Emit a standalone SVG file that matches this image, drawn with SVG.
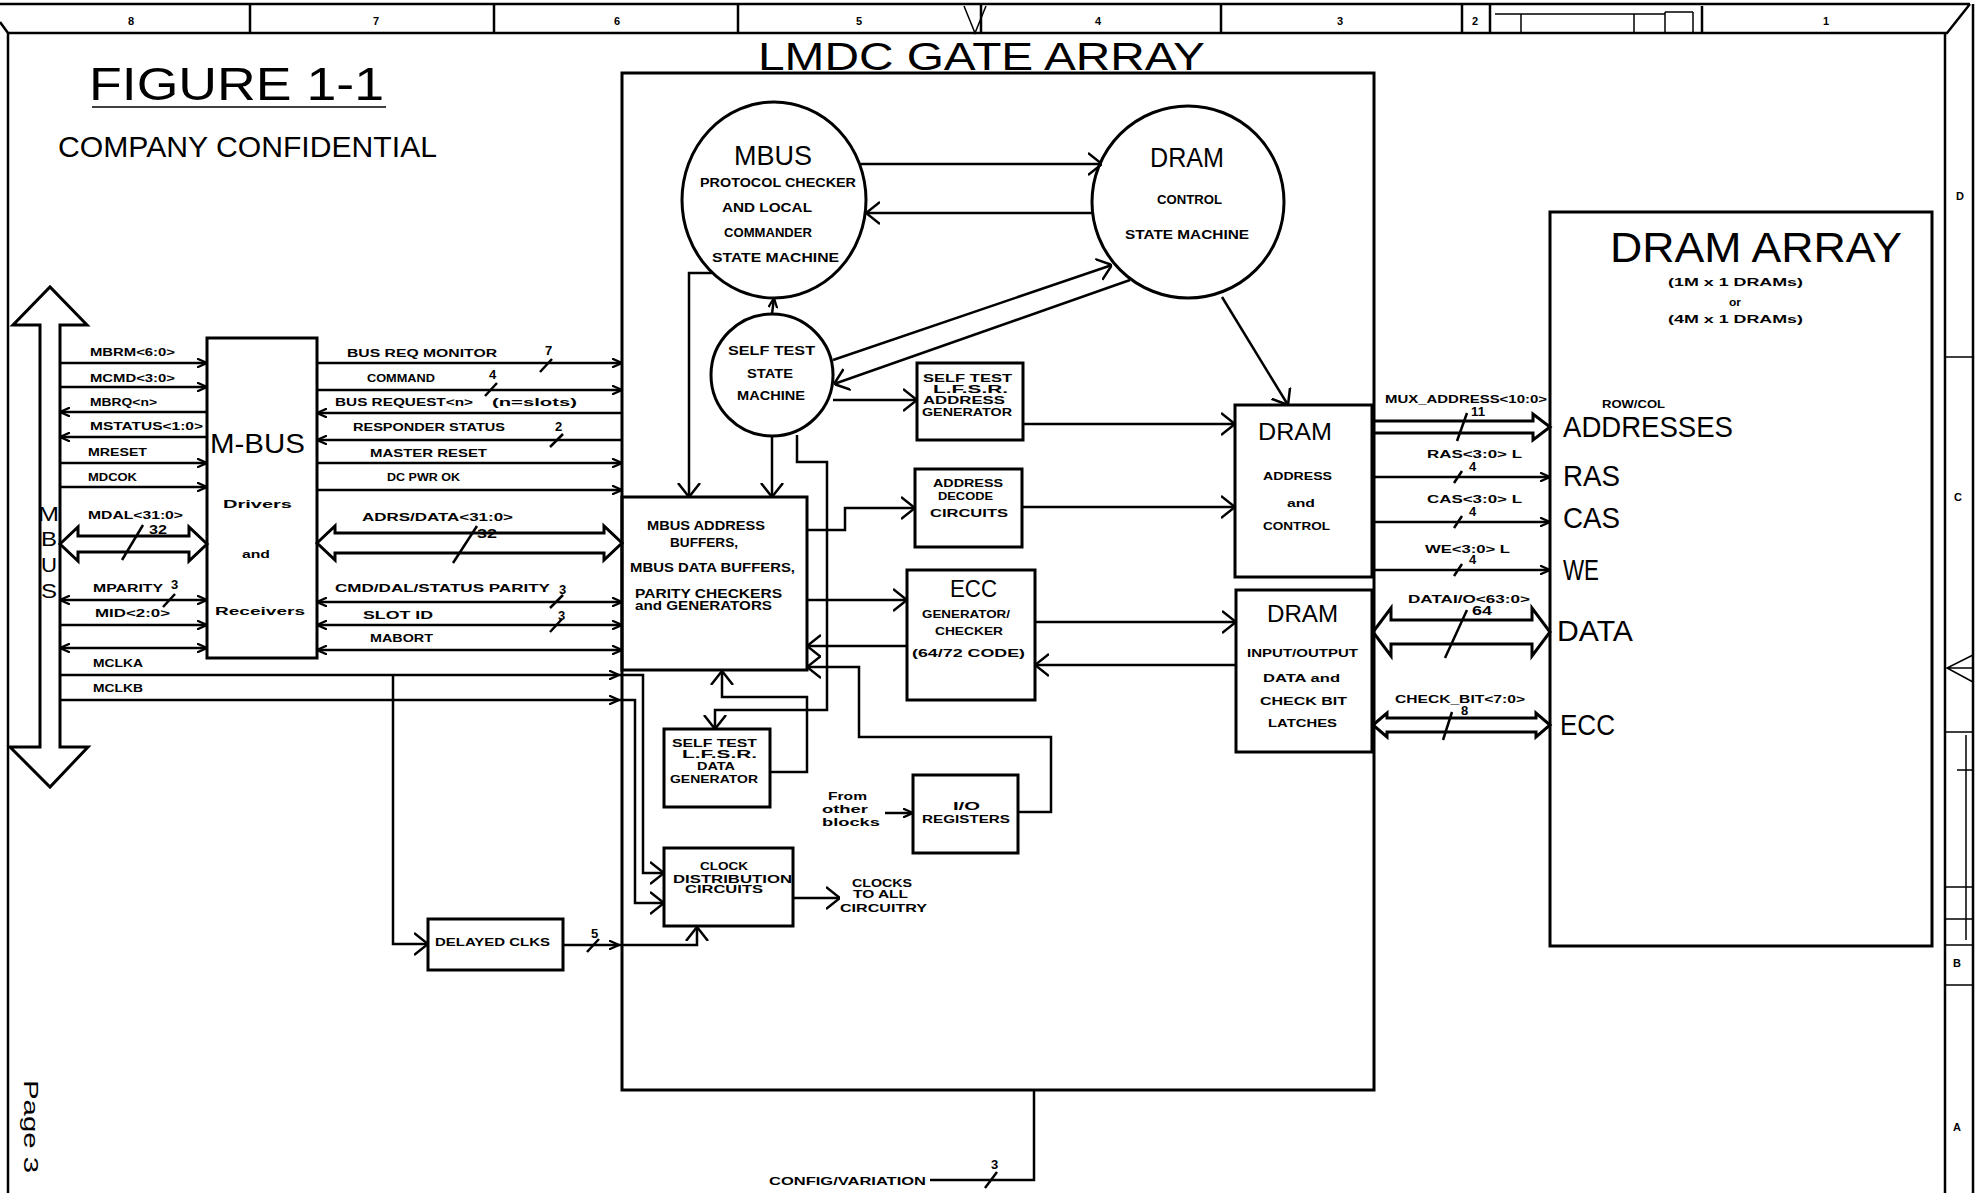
<svg xmlns="http://www.w3.org/2000/svg" width="1986" height="1193" viewBox="0 0 1986 1193">
<defs>
<style>
.ln{fill:none;stroke:#000;stroke-width:2.5}
.bx{fill:none;stroke:#000;stroke-width:3}
.fr{fill:none;stroke:#000;stroke-width:2.5}
.th{fill:none;stroke:#000;stroke-width:1.5}
.bus{fill:none;stroke:#000;stroke-width:3;stroke-linejoin:miter}
.s{font-family:"Liberation Sans",Arial,sans-serif;font-weight:bold;font-size:11px;fill:#000}
.n{font-family:"Liberation Sans",Arial,sans-serif;font-weight:bold;font-size:13px;fill:#000}
.m{font-family:"Liberation Sans",Arial,sans-serif;font-weight:bold;font-size:12px;fill:#000}
.t{font-family:"Liberation Sans",Arial,sans-serif;font-weight:normal;fill:#000}
</style>
<marker id="a" viewBox="0 0 10 10" refX="10" refY="5" markerWidth="10" markerHeight="10" markerUnits="userSpaceOnUse" orient="auto"><path d="M0,0.5 L10,5 L0,9.5" fill="none" stroke="#000" stroke-width="2.2"/></marker>
<marker id="b" viewBox="0 0 10 10" refX="10" refY="5" markerWidth="10" markerHeight="10" markerUnits="userSpaceOnUse" orient="auto-start-reverse"><path d="M0,0.5 L10,5 L0,9.5" fill="none" stroke="#000" stroke-width="2.2"/></marker>
<marker id="A" viewBox="0 0 14 24" refX="14" refY="12" markerWidth="14" markerHeight="24" markerUnits="userSpaceOnUse" orient="auto"><path d="M0,1 L14,12 L0,23" fill="none" stroke="#000" stroke-width="2.5"/></marker>
</defs>
<rect width="1986" height="1193" fill="#fff"/>

<g id="frame">
<path class="fr" d="M0,4 H1970 M0,22 L8,33 H1947 L1970,4 M8,33 V1193 M1945,33 V1193 M1973,4 V1193"/>
<path class="fr" d="M250,4 V33 M494,4 V33 M738,4 V33 M981,4 V33 M1221,4 V33 M1462,4 V33 M1490,4 V33 M1702,6 V33"/>
<path class="th" d="M964,6 L975,33 L986,6 M1495,14 H1665 M1521,14 V33 M1634,14 V33 M1665,12 V33 M1693,12 V33 M1665,12 H1693"/>
<path class="th" d="M1945,357 H1973 M1945,732 H1973 M1957,770 H1973 M1945,887 H1973 M1945,919 H1973 M1945,945 H1973 M1945,985 H1973 M1973,655 L1947,668 L1973,682 M1947,668 H1973 M1966,735 V940"/>
<g class="s">
<text x="128" y="25">8</text><text x="373" y="25">7</text><text x="614" y="25">6</text><text x="856" y="25">5</text>
<text x="1095" y="25">4</text><text x="1337" y="25">3</text><text x="1472" y="25">2</text><text x="1823" y="25">1</text>
<text x="1956" y="200">D</text><text x="1954" y="501">C</text><text x="1953" y="967">B</text><text x="1953" y="1131">A</text>
</g>
<text class="t" transform="translate(24,1080) rotate(90)" font-size="20" font-weight="bold" textLength="93" lengthAdjust="spacingAndGlyphs">Page 3</text>
</g>

<g id="title">
<text class="t" x="89" y="100" font-size="46" textLength="295" lengthAdjust="spacingAndGlyphs">FIGURE 1-1</text>
<line class="th" x1="92" y1="107" x2="386" y2="107"/>
<text class="t" x="58" y="157" font-size="30" textLength="379" lengthAdjust="spacingAndGlyphs">COMPANY CONFIDENTIAL</text>
</g>

<g id="mbus-arrow">
<path class="bus" d="M40,325 L13,325 L50,287 L87,325 L60,325 L60,747 L88,747 L50,787 L10,747 L40,747 Z"/>
<text class="t" x="38" y="521" font-size="21" textLength="21" lengthAdjust="spacingAndGlyphs">M</text>
<text class="t" x="41" y="546" font-size="21" textLength="16" lengthAdjust="spacingAndGlyphs">B</text>
<text class="t" x="41" y="572" font-size="21" textLength="16" lengthAdjust="spacingAndGlyphs">U</text>
<text class="t" x="41" y="598" font-size="21" textLength="16" lengthAdjust="spacingAndGlyphs">S</text>
</g>

<g id="mbus-box">
<rect class="bx" x="207" y="338" width="110" height="320"/>
<text class="t" x="210" y="453" font-size="28" textLength="95" lengthAdjust="spacingAndGlyphs">M-BUS</text>
<text class="s" x="223" y="508" textLength="69" lengthAdjust="spacingAndGlyphs">Drivers</text>
<text class="s" x="242" y="558" textLength="28" lengthAdjust="spacingAndGlyphs">and</text>
<text class="s" x="215" y="615" textLength="90" lengthAdjust="spacingAndGlyphs">Receivers</text>
</g>

<g id="gate-array">
<rect class="bx" x="622" y="73" width="752" height="1017"/>
<text class="t" x="758" y="70" font-size="39" textLength="447" lengthAdjust="spacingAndGlyphs">LMDC GATE ARRAY</text>
</g>

<g id="mbus-sm">
<ellipse class="bx" cx="774" cy="200" rx="92" ry="98"/>
<text class="t" x="734" y="165" font-size="28" textLength="78" lengthAdjust="spacingAndGlyphs">MBUS</text>
<text class="m" x="700" y="187" textLength="156" lengthAdjust="spacingAndGlyphs">PROTOCOL CHECKER</text>
<text class="m" x="722" y="212" textLength="90" lengthAdjust="spacingAndGlyphs">AND LOCAL</text>
<text class="m" x="724" y="237" textLength="88" lengthAdjust="spacingAndGlyphs">COMMANDER</text>
<text class="m" x="712" y="262" textLength="127" lengthAdjust="spacingAndGlyphs">STATE MACHINE</text>
</g>

<g id="dram-sm">
<circle class="bx" cx="1188" cy="202" r="96"/>
<text class="t" x="1150" y="167" font-size="27" textLength="74" lengthAdjust="spacingAndGlyphs">DRAM</text>
<text class="m" x="1157" y="204" textLength="65" lengthAdjust="spacingAndGlyphs">CONTROL</text>
<text class="m" x="1125" y="239" textLength="124" lengthAdjust="spacingAndGlyphs">STATE MACHINE</text>
</g>

<g id="selftest-sm">
<circle class="bx" cx="772" cy="375" r="61"/>
<text class="m" x="728" y="355" textLength="87" lengthAdjust="spacingAndGlyphs">SELF TEST</text>
<text class="m" x="747" y="378" textLength="46" lengthAdjust="spacingAndGlyphs">STATE</text>
<text class="m" x="737" y="400" textLength="68" lengthAdjust="spacingAndGlyphs">MACHINE</text>
</g>

<g id="lfsr-addr">
<rect class="bx" x="917" y="363" width="106" height="77"/>
<text class="s" x="923" y="382" textLength="89" lengthAdjust="spacingAndGlyphs">SELF TEST</text>
<text class="s" x="933" y="393" textLength="75" lengthAdjust="spacingAndGlyphs">L.F.S.R.</text>
<text class="s" x="923" y="404" textLength="82" lengthAdjust="spacingAndGlyphs">ADDRESS</text>
<text class="s" x="922" y="416" textLength="90" lengthAdjust="spacingAndGlyphs">GENERATOR</text>
</g>

<g id="addr-decode">
<rect class="bx" x="915" y="469" width="107" height="78"/>
<text class="s" x="933" y="487" textLength="70" lengthAdjust="spacingAndGlyphs">ADDRESS</text>
<text class="s" x="938" y="500" textLength="55" lengthAdjust="spacingAndGlyphs">DECODE</text>
<text class="s" x="930" y="517" textLength="78" lengthAdjust="spacingAndGlyphs">CIRCUITS</text>
</g>

<g id="mbus-buffers">
<rect class="bx" x="622" y="497" width="185" height="173"/>
<text class="m" x="647" y="530" textLength="118" lengthAdjust="spacingAndGlyphs">MBUS ADDRESS</text>
<text class="m" x="670" y="547" textLength="68" lengthAdjust="spacingAndGlyphs">BUFFERS,</text>
<text class="m" x="630" y="572" textLength="165" lengthAdjust="spacingAndGlyphs">MBUS DATA BUFFERS,</text>
<text class="m" x="635" y="598" textLength="147" lengthAdjust="spacingAndGlyphs">PARITY CHECKERS</text>
<text class="m" x="635" y="610" textLength="137" lengthAdjust="spacingAndGlyphs">and GENERATORS</text>
</g>

<g id="ecc">
<rect class="bx" x="907" y="570" width="128" height="130"/>
<text class="t" x="950" y="597" font-size="24" textLength="47" lengthAdjust="spacingAndGlyphs">ECC</text>
<text class="s" x="922" y="618" textLength="88" lengthAdjust="spacingAndGlyphs">GENERATOR/</text>
<text class="s" x="935" y="635" textLength="68" lengthAdjust="spacingAndGlyphs">CHECKER</text>
<text class="s" x="912" y="657" textLength="113" lengthAdjust="spacingAndGlyphs">(64/72 CODE)</text>
</g>

<g id="lfsr-data">
<rect class="bx" x="664" y="729" width="106" height="78"/>
<text class="s" x="672" y="747" textLength="85" lengthAdjust="spacingAndGlyphs">SELF TEST</text>
<text class="s" x="682" y="758" textLength="75" lengthAdjust="spacingAndGlyphs">L.F.S.R.</text>
<text class="s" x="697" y="770" textLength="38" lengthAdjust="spacingAndGlyphs">DATA</text>
<text class="s" x="670" y="783" textLength="88" lengthAdjust="spacingAndGlyphs">GENERATOR</text>
</g>

<g id="io-regs">
<rect class="bx" x="913" y="775" width="105" height="78"/>
<text class="s" x="953" y="810" textLength="27" lengthAdjust="spacingAndGlyphs">I/O</text>
<text class="s" x="922" y="823" textLength="88" lengthAdjust="spacingAndGlyphs">REGISTERS</text>
<text class="s" x="828" y="800" textLength="39" lengthAdjust="spacingAndGlyphs">From</text>
<text class="s" x="822" y="813" textLength="46" lengthAdjust="spacingAndGlyphs">other</text>
<text class="s" x="822" y="826" textLength="58" lengthAdjust="spacingAndGlyphs">blocks</text>
</g>

<g id="clock-dist">
<rect class="bx" x="664" y="848" width="129" height="78"/>
<text class="s" x="700" y="870" textLength="48" lengthAdjust="spacingAndGlyphs">CLOCK</text>
<text class="s" x="673" y="883" textLength="119" lengthAdjust="spacingAndGlyphs">DISTRIBUTION</text>
<text class="s" x="685" y="893" textLength="78" lengthAdjust="spacingAndGlyphs">CIRCUITS</text>
<text class="s" x="852" y="887" textLength="60" lengthAdjust="spacingAndGlyphs">CLOCKS</text>
<text class="s" x="853" y="898" textLength="55" lengthAdjust="spacingAndGlyphs">TO ALL</text>
<text class="s" x="840" y="912" textLength="87" lengthAdjust="spacingAndGlyphs">CIRCUITRY</text>
</g>

<g id="delayed-clks">
<rect class="bx" x="428" y="919" width="135" height="51"/>
<text class="s" x="435" y="946" textLength="115" lengthAdjust="spacingAndGlyphs">DELAYED CLKS</text>
</g>

<g id="dram-addr">
<rect class="bx" x="1235" y="405" width="137" height="172"/>
<text class="t" x="1258" y="440" font-size="24" textLength="74" lengthAdjust="spacingAndGlyphs">DRAM</text>
<text class="s" x="1263" y="480" textLength="69" lengthAdjust="spacingAndGlyphs">ADDRESS</text>
<text class="s" x="1287" y="507" textLength="28" lengthAdjust="spacingAndGlyphs">and</text>
<text class="s" x="1263" y="530" textLength="67" lengthAdjust="spacingAndGlyphs">CONTROL</text>
</g>

<g id="dram-io">
<rect class="bx" x="1236" y="590" width="136" height="162"/>
<text class="t" x="1267" y="622" font-size="24" textLength="71" lengthAdjust="spacingAndGlyphs">DRAM</text>
<text class="s" x="1247" y="657" textLength="111" lengthAdjust="spacingAndGlyphs">INPUT/OUTPUT</text>
<text class="s" x="1263" y="682" textLength="77" lengthAdjust="spacingAndGlyphs">DATA and</text>
<text class="s" x="1260" y="705" textLength="87" lengthAdjust="spacingAndGlyphs">CHECK BIT</text>
<text class="s" x="1268" y="727" textLength="69" lengthAdjust="spacingAndGlyphs">LATCHES</text>
</g>

<g id="dram-array">
<rect class="bx" x="1550" y="212" width="382" height="734"/>
<text class="t" x="1610" y="262" font-size="42" textLength="292" lengthAdjust="spacingAndGlyphs">DRAM ARRAY</text>
<text class="s" x="1668" y="286" font-size="10" textLength="135" lengthAdjust="spacingAndGlyphs">(1M x 1 DRAMs)</text>
<text class="s" x="1729" y="306" font-size="10" textLength="12" lengthAdjust="spacingAndGlyphs">or</text>
<text class="s" x="1668" y="323" font-size="10" textLength="135" lengthAdjust="spacingAndGlyphs">(4M x 1 DRAMs)</text>
<text class="s" x="1602" y="408" font-size="10" textLength="63" lengthAdjust="spacingAndGlyphs">ROW/COL</text>
<text class="t" x="1563" y="437" font-size="30" textLength="170" lengthAdjust="spacingAndGlyphs">ADDRESSES</text>
<text class="t" x="1563" y="486" font-size="29" textLength="57" lengthAdjust="spacingAndGlyphs">RAS</text>
<text class="t" x="1563" y="528" font-size="29" textLength="57" lengthAdjust="spacingAndGlyphs">CAS</text>
<text class="t" x="1563" y="580" font-size="29" textLength="36" lengthAdjust="spacingAndGlyphs">WE</text>
<text class="t" x="1557" y="641" font-size="29" textLength="76" lengthAdjust="spacingAndGlyphs">DATA</text>
<text class="t" x="1560" y="735" font-size="29" textLength="55" lengthAdjust="spacingAndGlyphs">ECC</text>
</g>

<g id="connectors">
<g class="ln">
<line x1="60" y1="363" x2="207" y2="363" marker-end="url(#a)"/>
<line x1="60" y1="387" x2="207" y2="387" marker-end="url(#a)"/>
<line x1="207" y1="412" x2="60" y2="412" marker-end="url(#a)"/>
<line x1="207" y1="437" x2="60" y2="437" marker-end="url(#a)"/>
<line x1="60" y1="463" x2="207" y2="463" marker-end="url(#a)"/>
<line x1="60" y1="487" x2="207" y2="487" marker-end="url(#a)"/>
<line x1="60" y1="600" x2="207" y2="600" marker-start="url(#b)" marker-end="url(#a)"/>
<line x1="60" y1="625" x2="207" y2="625" marker-end="url(#a)"/>
<line x1="60" y1="648" x2="207" y2="648" marker-start="url(#b)" marker-end="url(#a)"/>
<line x1="60" y1="675" x2="619" y2="675" marker-end="url(#a)"/>
<line x1="60" y1="700" x2="619" y2="700" marker-end="url(#a)"/>
<line x1="163" y1="607" x2="175" y2="594"/>
<line x1="122" y1="560" x2="143" y2="525"/>
</g>
<path class="bus" d="M60,544 L78,527 L78,536 L189,536 L189,527 L207,544 L189,561 L189,552 L78,552 L78,561 Z"/>
<g class="s">
<text x="90" y="356" textLength="85" lengthAdjust="spacingAndGlyphs">MBRM&lt;6:0&gt;</text>
<text x="90" y="382" textLength="85" lengthAdjust="spacingAndGlyphs">MCMD&lt;3:0&gt;</text>
<text x="90" y="406" textLength="67" lengthAdjust="spacingAndGlyphs">MBRQ&lt;n&gt;</text>
<text x="90" y="430" textLength="113" lengthAdjust="spacingAndGlyphs">MSTATUS&lt;1:0&gt;</text>
<text x="88" y="456" textLength="59" lengthAdjust="spacingAndGlyphs">MRESET</text>
<text x="88" y="481" textLength="49" lengthAdjust="spacingAndGlyphs">MDCOK</text>
<text x="88" y="519" textLength="95" lengthAdjust="spacingAndGlyphs">MDAL&lt;31:0&gt;</text>
<text x="93" y="592" textLength="70" lengthAdjust="spacingAndGlyphs">MPARITY</text>
<text x="95" y="617" textLength="75" lengthAdjust="spacingAndGlyphs">MID&lt;2:0&gt;</text>
<text x="93" y="667" textLength="50" lengthAdjust="spacingAndGlyphs">MCLKA</text>
<text x="93" y="692" textLength="50" lengthAdjust="spacingAndGlyphs">MCLKB</text>
</g>
<g class="n">
<text x="149" y="534" textLength="18" lengthAdjust="spacingAndGlyphs">32</text>
<text x="171" y="589">3</text>
</g>

<g class="ln">
<line x1="317" y1="363" x2="622" y2="363" marker-end="url(#a)"/>
<line x1="317" y1="390" x2="622" y2="390" marker-end="url(#a)"/>
<line x1="622" y1="413" x2="317" y2="413" marker-end="url(#a)"/>
<line x1="622" y1="440" x2="317" y2="440" marker-end="url(#a)"/>
<line x1="317" y1="463" x2="622" y2="463" marker-end="url(#a)"/>
<line x1="317" y1="490" x2="622" y2="490" marker-end="url(#a)"/>
<line x1="317" y1="602" x2="622" y2="602" marker-start="url(#b)" marker-end="url(#a)"/>
<line x1="317" y1="625" x2="622" y2="625" marker-start="url(#b)" marker-end="url(#a)"/>
<line x1="317" y1="650" x2="622" y2="650" marker-start="url(#b)" marker-end="url(#a)"/>
<line x1="540" y1="372" x2="552" y2="359"/>
<line x1="485" y1="396" x2="497" y2="383"/>
<line x1="550" y1="447" x2="563" y2="434"/>
<line x1="453" y1="563" x2="477" y2="526"/>
<line x1="550" y1="608" x2="563" y2="595"/>
<line x1="550" y1="632" x2="562" y2="619"/>
</g>
<path class="bus" d="M317,543 L335,526 L335,533 L604,533 L604,526 L622,543 L604,560 L604,553 L335,553 L335,560 Z"/>
<g class="s">
<text x="347" y="357" textLength="150" lengthAdjust="spacingAndGlyphs">BUS REQ MONITOR</text>
<text x="367" y="382" textLength="68" lengthAdjust="spacingAndGlyphs">COMMAND</text>
<text x="335" y="406" textLength="138" lengthAdjust="spacingAndGlyphs">BUS REQUEST&lt;n&gt;</text>
<text x="492" y="406" textLength="85" lengthAdjust="spacingAndGlyphs">(n=slots)</text>
<text x="353" y="431" textLength="152" lengthAdjust="spacingAndGlyphs">RESPONDER STATUS</text>
<text x="370" y="457" textLength="117" lengthAdjust="spacingAndGlyphs">MASTER RESET</text>
<text x="387" y="481" textLength="73" lengthAdjust="spacingAndGlyphs">DC PWR OK</text>
<text x="362" y="521" textLength="151" lengthAdjust="spacingAndGlyphs">ADRS/DATA&lt;31:0&gt;</text>
<text x="335" y="592" textLength="215" lengthAdjust="spacingAndGlyphs">CMD/DAL/STATUS PARITY</text>
<text x="363" y="619" textLength="70" lengthAdjust="spacingAndGlyphs">SLOT ID</text>
<text x="370" y="642" textLength="63" lengthAdjust="spacingAndGlyphs">MABORT</text>
</g>
<g class="n">
<text x="545" y="355">7</text>
<text x="489" y="379">4</text>
<text x="555" y="431">2</text>
<text x="477" y="538" textLength="20" lengthAdjust="spacingAndGlyphs">32</text>
<text x="559" y="594">3</text>
<text x="558" y="620">3</text>
</g>

<g class="ln">
<path d="M393,675 V944 H428" marker-end="url(#A)"/>
<line x1="563" y1="945" x2="619" y2="945" marker-end="url(#a)"/>
<path d="M619,945 H697 V927" marker-end="url(#A)"/>
<path d="M619,675 H643 V873 H664" marker-end="url(#A)"/>
<path d="M619,700 H635 V903 H664" marker-end="url(#A)"/>
<line x1="587" y1="952" x2="599" y2="939"/>
<line x1="793" y1="898" x2="840" y2="898" marker-end="url(#A)"/>
<line x1="885" y1="813" x2="913" y2="813" marker-end="url(#a)"/>
</g>
<text class="n" x="591" y="938">5</text>

<g class="ln">
<line x1="861" y1="164" x2="1102" y2="164" marker-end="url(#A)"/>
<line x1="1093" y1="213" x2="866" y2="213" marker-end="url(#A)"/>
<line x1="772" y1="314" x2="774" y2="298" marker-end="url(#a)"/>
<path d="M712,273 H689 V497" marker-end="url(#A)"/>
<line x1="772" y1="437" x2="772" y2="497" marker-end="url(#A)"/>
<line x1="833" y1="400" x2="917" y2="400" marker-end="url(#A)"/>
<line x1="833" y1="360" x2="1112" y2="265" marker-end="url(#A)"/>
<line x1="1130" y1="280" x2="834" y2="384" marker-end="url(#A)"/>
<line x1="1222" y1="297" x2="1288" y2="405" marker-end="url(#A)"/>
<line x1="1023" y1="424" x2="1235" y2="424" marker-end="url(#A)"/>
<path d="M807,530 H845 V508 H915" marker-end="url(#A)"/>
<line x1="1022" y1="507" x2="1235" y2="507" marker-end="url(#A)"/>
<line x1="807" y1="600" x2="907" y2="600" marker-end="url(#A)"/>
<line x1="907" y1="646" x2="807" y2="646" marker-end="url(#A)"/>
<line x1="1035" y1="622" x2="1236" y2="622" marker-end="url(#A)"/>
<line x1="1236" y1="665" x2="1035" y2="665" marker-end="url(#A)"/>
<path d="M797,435 V462 H827 V710 H715 V729" marker-end="url(#A)"/>
<path d="M770,772 H807 V697 H722 V671" marker-end="url(#A)"/>
<path d="M1018,812 H1051 V737 H859 V667 H807" marker-end="url(#A)"/>
</g>

<path class="bus" d="M1373,421 H1533 V414 L1550,427 L1533,440 V433 H1373"/>
<path class="bus" d="M1373,632 L1391,608 L1391,620 L1532,620 L1532,608 L1550,632 L1532,656 L1532,644 L1391,644 L1391,656 Z"/>
<path class="bus" d="M1373,725 L1387,713 L1387,718 L1536,718 L1536,713 L1550,725 L1536,737 L1536,732 L1387,732 L1387,737 Z"/>
<g class="ln">
<line x1="1373" y1="477" x2="1550" y2="477" marker-end="url(#a)"/>
<line x1="1373" y1="522" x2="1550" y2="522" marker-end="url(#a)"/>
<line x1="1373" y1="570" x2="1550" y2="570" marker-end="url(#a)"/>
<line x1="1457" y1="441" x2="1467" y2="413"/>
<line x1="1454" y1="483" x2="1462" y2="471"/>
<line x1="1454" y1="528" x2="1462" y2="516"/>
<line x1="1454" y1="576" x2="1462" y2="564"/>
<line x1="1445" y1="658" x2="1467" y2="610"/>
<line x1="1443" y1="740" x2="1452" y2="712"/>
</g>
<g class="s">
<text x="1385" y="403" textLength="162" lengthAdjust="spacingAndGlyphs">MUX_ADDRESS&lt;10:0&gt;</text>
<text x="1427" y="458" textLength="95" lengthAdjust="spacingAndGlyphs">RAS&lt;3:0&gt; L</text>
<text x="1427" y="503" textLength="95" lengthAdjust="spacingAndGlyphs">CAS&lt;3:0&gt; L</text>
<text x="1425" y="553" textLength="85" lengthAdjust="spacingAndGlyphs">WE&lt;3:0&gt; L</text>
<text x="1408" y="603" textLength="122" lengthAdjust="spacingAndGlyphs">DATAI/O&lt;63:0&gt;</text>
<text x="1395" y="703" textLength="130" lengthAdjust="spacingAndGlyphs">CHECK_BIT&lt;7:0&gt;</text>
</g>
<g class="n" font-size="12">
<text x="1471" y="416" textLength="14" lengthAdjust="spacingAndGlyphs">11</text>
<text x="1469" y="471">4</text>
<text x="1469" y="516">4</text>
<text x="1469" y="564">4</text>
<text x="1472" y="615" textLength="20" lengthAdjust="spacingAndGlyphs">64</text>
<text x="1461" y="715">8</text>
</g>

<path class="ln" d="M1034,1090 V1180 H930"/>
<line class="ln" x1="985" y1="1188" x2="997" y2="1172"/>
<text class="n" x="991" y="1169">3</text>
<text class="s" x="769" y="1185" textLength="157" lengthAdjust="spacingAndGlyphs">CONFIG/VARIATION</text>
</g>
</svg>
